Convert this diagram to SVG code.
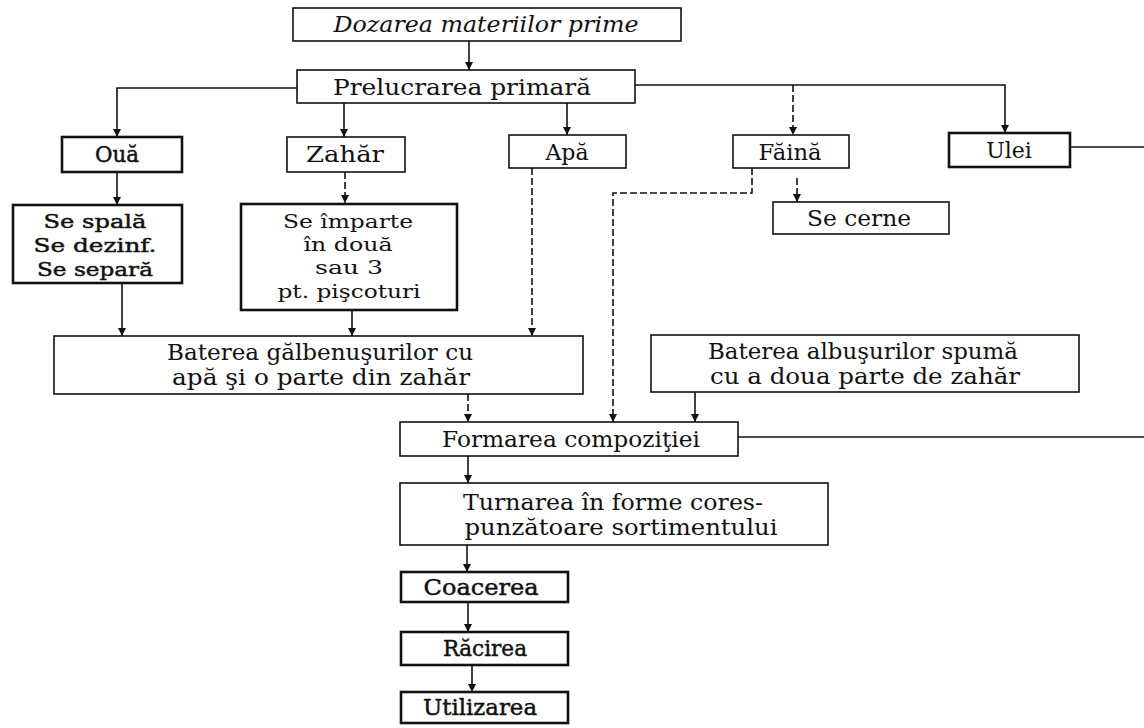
<svg xmlns="http://www.w3.org/2000/svg" width="1144" height="728" viewBox="0 0 1144 728">
  <style>
    .box { fill: #ffffff; stroke: #111111; stroke-width: 1.6; }
    .box.heavy { stroke-width: 2.6; }
    .lbl { font-family: "DejaVu Serif", "Liberation Serif", serif; font-size: 22px; fill: #111111; text-anchor: middle; }
    .lbl.sm { font-size: 19px; }
    .lbl.it { font-style: italic; }
    .lbl.dark { stroke: #111111; stroke-width: 0.45; }
    .wire { fill: none; stroke: #111111; stroke-width: 1.6; }
    .wire.dash { stroke-dasharray: 7 3; }
    .wire.arrow { marker-end: url(#tip); }
  </style>
  <defs>
    <marker id="tip" viewBox="0 0 10 10" refX="10" refY="5" markerWidth="8" markerHeight="8" markerUnits="userSpaceOnUse" orient="auto">
      <path d="M0,0 L10,5 L0,10 Z" fill="#111111"/>
    </marker>
  </defs>

  <rect width="1144" height="728" fill="#ffffff"/>

  <!-- connectors -->
  <g id="connectors">
    <path class="wire arrow" d="M469,41 V70"/>
    <path class="wire arrow" d="M297,88 H117 V137"/>
    <path class="wire arrow" d="M344,103 V137"/>
    <path class="wire arrow" d="M567,103 V135"/>
    <path class="wire arrow" d="M635,85 H1005 V133"/>
    <path class="wire dash arrow" d="M793,85 V135"/>
    <path class="wire arrow" d="M117,172 V205"/>
    <path class="wire dash arrow" d="M345,172 V203"/>
    <path class="wire dash arrow" d="M532,168 V336"/>
    <path class="wire dash arrow" d="M797,178 V202"/>
    <path class="wire dash arrow" d="M752,168 V193 H613 V422"/>
    <path class="wire" d="M1070,147 H1144"/>
    <path class="wire arrow" d="M122,283 V336"/>
    <path class="wire arrow" d="M352,310 V336"/>
    <path class="wire dash arrow" d="M468,394 V422"/>
    <path class="wire arrow" d="M695,392 V422"/>
    <path class="wire" d="M738,437 H1144"/>
    <path class="wire arrow" d="M468,456 V483"/>
    <path class="wire arrow" d="M467,545 V572"/>
    <path class="wire arrow" d="M468,602 V632"/>
    <path class="wire arrow" d="M472,665 V692"/>
  </g>

  <g id="dozarea">
    <rect class="box" x="293" y="8" width="388" height="33"/>
    <text class="lbl it" x="486" y="32" textLength="305" lengthAdjust="spacingAndGlyphs">Dozarea materiilor prime</text>
  </g>
  <g id="prelucrarea">
    <rect class="box" x="297" y="70" width="338" height="33"/>
    <text class="lbl" x="462" y="95" textLength="258" lengthAdjust="spacingAndGlyphs">Prelucrarea primară</text>
  </g>

  <g id="oua">
    <rect class="box heavy" x="62" y="137" width="120" height="35"/>
    <text class="lbl dark" x="117" y="162" textLength="44" lengthAdjust="spacingAndGlyphs">Ouă</text>
  </g>
  <g id="zahar">
    <rect class="box" x="287" y="137" width="118" height="35"/>
    <text class="lbl" x="345" y="162" textLength="78" lengthAdjust="spacingAndGlyphs">Zahăr</text>
  </g>
  <g id="apa">
    <rect class="box" x="509" y="135" width="117" height="33"/>
    <text class="lbl" x="567" y="160">Apă</text>
  </g>
  <g id="faina">
    <rect class="box" x="733" y="135" width="116" height="33"/>
    <text class="lbl" x="790" y="160" textLength="63" lengthAdjust="spacingAndGlyphs">Făină</text>
  </g>
  <g id="ulei">
    <rect class="box heavy" x="949" y="133" width="121" height="34"/>
    <text class="lbl" x="1009" y="158">Ulei</text>
  </g>

  <g id="se-spala">
    <rect class="box heavy" x="13" y="205" width="169" height="78"/>
    <text class="lbl sm dark" x="95" y="228" textLength="103" lengthAdjust="spacingAndGlyphs">Se spală</text>
    <text class="lbl sm dark" x="95" y="252" textLength="123" lengthAdjust="spacingAndGlyphs">Se dezinf.</text>
    <text class="lbl sm dark" x="95" y="276" textLength="116" lengthAdjust="spacingAndGlyphs">Se separă</text>
  </g>
  <g id="se-imparte">
    <rect class="box heavy" x="241" y="204" width="216" height="106"/>
    <text class="lbl sm" x="348" y="228" textLength="130" lengthAdjust="spacingAndGlyphs">Se împarte</text>
    <text class="lbl sm" x="348" y="251" textLength="89" lengthAdjust="spacingAndGlyphs">în două</text>
    <text class="lbl sm" x="349" y="274" textLength="68" lengthAdjust="spacingAndGlyphs">sau 3</text>
    <text class="lbl sm" x="349" y="298" textLength="143" lengthAdjust="spacingAndGlyphs">pt. pişcoturi</text>
  </g>
  <g id="se-cerne">
    <rect class="box" x="773" y="202" width="176" height="32"/>
    <text class="lbl" x="859" y="226" textLength="104" lengthAdjust="spacingAndGlyphs">Se cerne</text>
  </g>

  <g id="baterea-galbenusuri">
    <rect class="box" x="54" y="336" width="529" height="58"/>
    <text class="lbl" x="320" y="360" textLength="306" lengthAdjust="spacingAndGlyphs">Baterea gălbenuşurilor cu</text>
    <text class="lbl" x="321" y="385" textLength="298" lengthAdjust="spacingAndGlyphs">apă şi o parte din zahăr</text>
  </g>
  <g id="baterea-albusuri">
    <rect class="box" x="651" y="335" width="428" height="57"/>
    <text class="lbl" x="863" y="359" textLength="310" lengthAdjust="spacingAndGlyphs">Baterea albuşurilor spumă</text>
    <text class="lbl" x="865" y="384" textLength="310" lengthAdjust="spacingAndGlyphs">cu a doua parte de zahăr</text>
  </g>

  <g id="formarea">
    <rect class="box" x="400" y="422" width="338" height="34"/>
    <text class="lbl" x="571" y="447" textLength="258" lengthAdjust="spacingAndGlyphs">Formarea compoziţiei</text>
  </g>
  <g id="turnarea">
    <rect class="box" x="400" y="483" width="428" height="62"/>
    <text class="lbl" x="613" y="510" textLength="300" lengthAdjust="spacingAndGlyphs">Turnarea în forme cores-</text>
    <text class="lbl" x="621" y="535" textLength="313" lengthAdjust="spacingAndGlyphs">punzătoare sortimentului</text>
  </g>
  <g id="coacerea">
    <rect class="box heavy" x="401" y="572" width="167" height="30"/>
    <text class="lbl dark" x="481" y="595" textLength="115" lengthAdjust="spacingAndGlyphs">Coacerea</text>
  </g>
  <g id="racirea">
    <rect class="box heavy" x="401" y="632" width="167" height="33"/>
    <text class="lbl dark" x="485" y="656" textLength="84" lengthAdjust="spacingAndGlyphs">Răcirea</text>
  </g>
  <g id="utilizarea">
    <rect class="box heavy" x="401" y="692" width="167" height="31"/>
    <text class="lbl dark" x="480" y="715" textLength="114" lengthAdjust="spacingAndGlyphs">Utilizarea</text>
  </g>
</svg>
